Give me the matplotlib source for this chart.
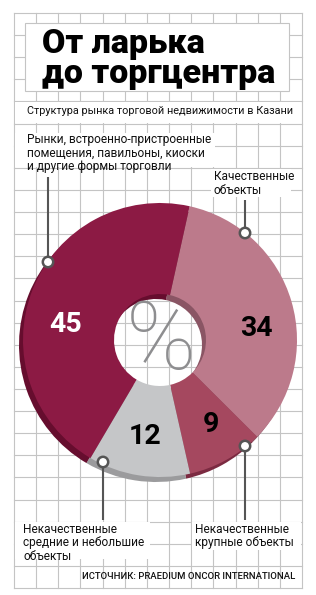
import matplotlib
matplotlib.use("Agg")
import matplotlib.pyplot as plt
from matplotlib.patches import Rectangle, Circle
from matplotlib import font_manager

# ---------------- data ----------------
categories = [
    "Качественные объекты",
    "Некачественные крупные объекты",
    "Некачественные средние и небольшие объекты",
    "Рынки, встроенно-пристроенные помещения, павильоны, киоски и другие формы торговли",
]
shares = [34, 9, 12, 45]
label_lines = [
    ["Качественные", "объекты"],
    ["Некачественные", "крупные объекты"],
    ["Некачественные", "средние и небольшие", "объекты"],
    ["Рынки, встроенно-пристроенные", "помещения, павильоны, киоски", "и другие формы торговли"],
]
title_lines = ["От ларька", "до торгцентра"]
subtitle = "Структура рынка торговой недвижимости в Казани"
source = "ИСТОЧНИК: PRAEDIUM ONCOR INTERNATIONAL"

# ---------------- style ----------------
face_colors = ["#BC7A8B", "#A5485F", "#C5C6C8", "#8C1A44"]
shadow_colors = ["#8A5564", "#7B2A41", "#9B9B9D", "#660D2E"]
value_colors = ["black", "black", "black", "white"]

names = {f.name for f in font_manager.fontManager.ttflist}
BODY = "Roboto" if "Roboto" in names else "DejaVu Sans"
plt.rcParams["font.family"] = [BODY, "DejaVu Sans"]

W, H = 316, 595
fig = plt.figure(figsize=(W / 100, H / 100), dpi=100)
ax = fig.add_axes([0, 0, 1, 1])

# ---------------- grid background ----------------
x0, x1, y0, y1 = 14, 302, 13, 588
ncol, nrow = 13, 26
grid_c = "#C4C4C4"
for i in range(ncol + 1):
    x = x0 + (x1 - x0) * i / ncol
    ax.plot([x, x], [y0, y1], color=grid_c, lw=0.8, zorder=1)
for j in range(nrow + 1):
    y = y0 + (y1 - y0) * j / nrow
    ax.plot([x0, x1], [y, y], color=grid_c, lw=0.8, zorder=1)

# white boxes behind texts
for (bx, by, bw, bh) in [(15, 102.4, 286, 20.6), (15, 133, 200, 34), (211, 169, 80, 28),
                         (15, 522.3, 135, 37), (192, 522.3, 109, 28)]:
    ax.add_patch(Rectangle((bx, by), bw, bh, facecolor="white", edgecolor="none", zorder=2))

# title box
ax.add_patch(Rectangle((25, 23), 264, 68, facecolor="white", edgecolor=grid_c, lw=0.8, zorder=3))

# ---------------- donut (y axis inverted -> flip angle direction) ----------------
cx, cy, R, hole = 160, 340, 137, 46
ax.pie(shares, colors=shadow_colors, center=(cx - 4, cy + 5), radius=R,
       startangle=-77.5, counterclock=True, frame=True,
       wedgeprops=dict(width=R - hole, linewidth=0, zorder=4))
ax.pie(shares, colors=face_colors, center=(cx, cy), radius=R,
       startangle=-77.5, counterclock=True, frame=True,
       wedgeprops=dict(width=R - hole, linewidth=0, zorder=5))

pct = ax.text(cx + 1, cy + 3, "%", fontsize=68, color="#8E8E90", fontweight="light",
              ha="center", va="center", zorder=6)
clip = Circle((cx, cy), hole, transform=ax.transData)
pct.set_clip_path(clip)

value_pos = [(256, 328), (211, 424), (145, 437), (66, 325)]
for v, (px, py), c in zip(shares, value_pos, value_colors):
    ax.text(px, py, str(v), fontsize=20.5, fontweight="bold", color=c,
            ha="center", va="center", zorder=7)

# ---------------- leaders ----------------
lead_c = "#555555"
leaders = [((245, 200), (245, 233)), ((245, 520), (245, 446)),
           ((103, 520), (103, 462)), ((48, 177), (48, 262))]
for (a, b) in leaders:
    ax.plot([a[0], b[0]], [a[1], b[1]], color=lead_c, lw=1.5, zorder=8, solid_capstyle="butt")
    ax.add_patch(Circle(b, 5.2, facecolor="white", edgecolor=lead_c, lw=1.8, zorder=9))

# ---------------- texts ----------------
label_xy = [(214, [176, 190.5]), (195, [529.5, 542.8]),
            (23, [529.5, 542.8, 556]), (27, [140, 153.3, 166.6])]
for lines, (lx, ys) in zip(label_lines, label_xy):
    for s, y in zip(lines, ys):
        ax.text(lx, y, s, fontsize=8.6, color="#111111", ha="left", va="center", zorder=10)

ax.text(27, 111, subtitle, fontsize=7.8, color="#111111", ha="left", va="center", zorder=10)
ax.text(295, 576.5, source, fontsize=6.8, color="#111111", ha="right", va="center",
        fontweight="medium", zorder=10)

ax.text(42, 83, "\n".join(title_lines), fontsize=24.5, fontweight="black", color="black",
        ha="left", va="baseline", linespacing=0.93, zorder=10)

# ---------------- axes setup ----------------
ax.set_xlim(0, W)
ax.set_ylim(H, 0)
ax.set_aspect("equal")
ax.axis("off")
fig.savefig("out.png", dpi=100, facecolor="white")
